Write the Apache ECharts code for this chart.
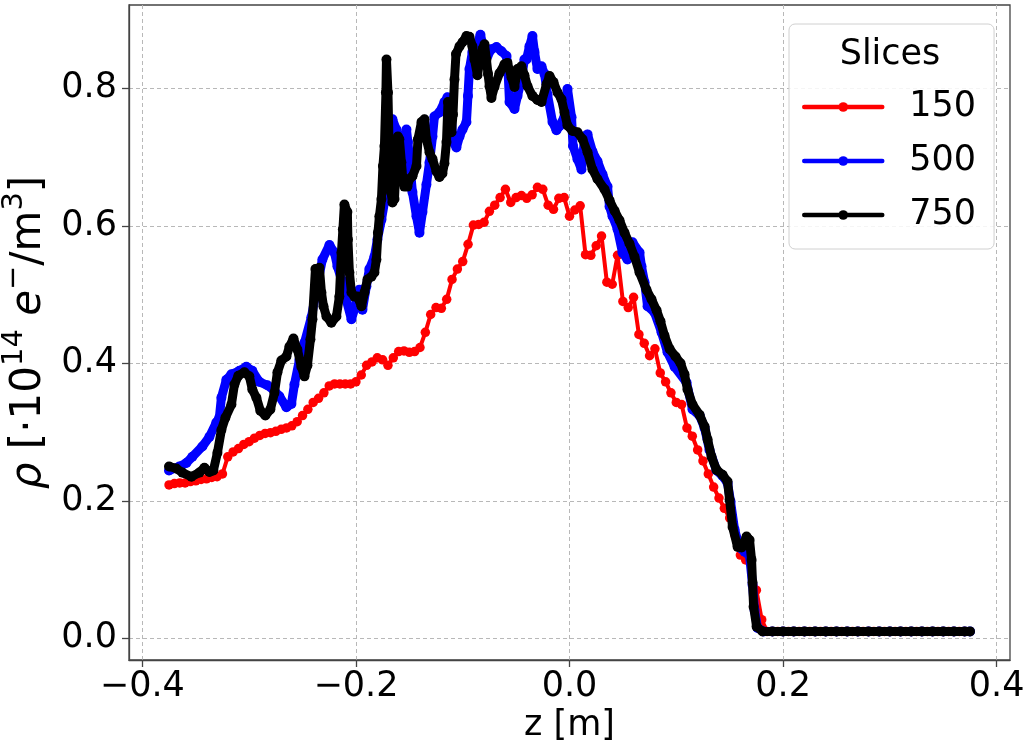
<!DOCTYPE html>
<html><head><meta charset="utf-8">
<script src="https://cdn.jsdelivr.net/npm/echarts@6/dist/echarts.min.js"></script>
<style>html,body{margin:0;padding:0;background:#fff}#c{width:1031px;height:745px}</style>
</head><body><div id="c"></div>
<script>
const seriesNames = ['150', '500', '750'];
const seriesColors = ['#ff0000', '#0000ff', '#000000'];
const xTickValues = [-0.4, -0.2, 0, 0.2, 0.4];
const xTickLabels = ['\u22120.4', '\u22120.2', '0.0', '0.2', '0.4'];
const yTickValues = [0, 0.2, 0.4, 0.6, 0.8];
const yTickLabels = ['0.0', '0.2', '0.4', '0.6', '0.8'];

// [z, rho] pairs
const red150 = [
[-0.375,0.223],[-0.370,0.225],[-0.365,0.226],[-0.360,0.226],[-0.355,0.228],[-0.350,0.229],[-0.345,0.231],[-0.340,0.232],[-0.335,0.234],[-0.330,0.235],
[-0.325,0.239],[-0.320,0.264],[-0.315,0.271],[-0.310,0.276],[-0.305,0.282],[-0.300,0.286],[-0.295,0.291],[-0.290,0.295],[-0.285,0.298],[-0.280,0.299],
[-0.275,0.301],[-0.270,0.304],[-0.265,0.306],[-0.260,0.309],[-0.255,0.315],[-0.250,0.324],[-0.245,0.333],[-0.240,0.343],[-0.235,0.349],[-0.230,0.357],
[-0.225,0.367],[-0.220,0.370],[-0.215,0.370],[-0.210,0.370],[-0.205,0.370],[-0.200,0.373],[-0.195,0.383],[-0.190,0.397],[-0.185,0.402],[-0.180,0.408],
[-0.175,0.405],[-0.170,0.397],[-0.165,0.408],[-0.160,0.417],[-0.155,0.418],[-0.150,0.416],[-0.145,0.417],[-0.140,0.423],[-0.135,0.445],[-0.130,0.471],
[-0.125,0.481],[-0.120,0.480],[-0.115,0.493],[-0.110,0.522],[-0.105,0.537],[-0.100,0.548],[-0.095,0.573],[-0.090,0.601],[-0.085,0.602],[-0.080,0.605],
[-0.075,0.621],[-0.070,0.630],[-0.065,0.641],[-0.060,0.653],[-0.055,0.634],[-0.050,0.641],[-0.045,0.644],[-0.040,0.640],[-0.035,0.645],[-0.030,0.656],
[-0.025,0.653],[-0.020,0.630],[-0.015,0.624],[-0.010,0.640],[-0.005,0.641],[0.000,0.614],[0.005,0.623],[0.010,0.629],[0.015,0.558],[0.020,0.557],
[0.025,0.571],[0.030,0.585],[0.035,0.518],[0.040,0.515],[0.045,0.557],[0.050,0.490],[0.055,0.481],[0.060,0.496],[0.065,0.442],[0.070,0.429],
[0.075,0.411],[0.080,0.421],[0.085,0.386],[0.090,0.373],[0.095,0.357],[0.100,0.343],[0.105,0.340],[0.110,0.306],[0.115,0.294],[0.120,0.274],
[0.125,0.258],[0.130,0.239],[0.135,0.220],[0.140,0.204],[0.145,0.189],[0.150,0.175],[0.155,0.150],[0.160,0.121],[0.165,0.114],[0.170,0.111],
[0.175,0.070],[0.180,0.027],[0.185,0.010],[0.190,0.010],[0.195,0.010],[0.200,0.010],[0.205,0.010],[0.210,0.010],[0.215,0.010],[0.220,0.010],
[0.225,0.010],[0.230,0.010],[0.235,0.010],[0.240,0.010],[0.245,0.010],[0.250,0.010],[0.255,0.010],[0.260,0.010],[0.265,0.010],[0.270,0.010],
[0.275,0.010],[0.280,0.010],[0.285,0.010],[0.290,0.010],[0.295,0.010],[0.300,0.010],[0.305,0.010],[0.310,0.010],[0.315,0.010],[0.320,0.010],
[0.325,0.010],[0.330,0.010],[0.335,0.010],[0.340,0.010],[0.345,0.010],[0.350,0.010],[0.355,0.010],[0.360,0.010],[0.365,0.010],[0.370,0.010]
];

const blue500 = [
[-0.375,0.244],[-0.3653,0.250],[-0.3588,0.255],[-0.3532,0.264],[-0.3438,0.279],[-0.3372,0.293],[-0.3307,0.314],[-0.3279,0.321],[-0.3260,0.350],[-0.3213,0.376],
[-0.3166,0.384],[-0.3091,0.389],[-0.3026,0.395],[-0.2970,0.389],[-0.2904,0.373],[-0.2829,0.368],[-0.2763,0.360],[-0.2717,0.352],[-0.2651,0.336],[-0.2604,0.341],
[-0.2576,0.369],[-0.2529,0.405],[-0.2482,0.430],[-0.2417,0.467],[-0.2370,0.507],[-0.2314,0.551],[-0.2248,0.572],[-0.2201,0.561],[-0.2173,0.541],[-0.2136,0.522],
[-0.2108,0.503],[-0.2042,0.464],[-0.1995,0.488],[-0.1967,0.507],[-0.1939,0.478],[-0.1902,0.512],[-0.1874,0.537],[-0.1827,0.555],[-0.1799,0.580],[-0.1761,0.609],
[-0.1733,0.634],[-0.1705,0.687],[-0.1686,0.726],[-0.1658,0.755],[-0.1621,0.740],[-0.1593,0.726],[-0.1564,0.711],[-0.1527,0.740],[-0.1513,0.722],[-0.1499,0.697],
[-0.1471,0.649],[-0.1433,0.614],[-0.1405,0.590],[-0.1377,0.620],[-0.1340,0.660],[-0.1311,0.692],[-0.1283,0.730],[-0.1265,0.759],[-0.1218,0.765],[-0.1171,0.780],
[-0.1143,0.787],[-0.1105,0.755],[-0.1091,0.722],[-0.1059,0.714],[-0.1030,0.730],[-0.1002,0.740],[-0.0965,0.751],[-0.0951,0.789],[-0.0937,0.828],[-0.0909,0.853],
[-0.0871,0.861],[-0.0834,0.878],[-0.0796,0.853],[-0.0768,0.847],[-0.0731,0.857],[-0.0684,0.860],[-0.0637,0.854],[-0.0590,0.847],[-0.0576,0.828],[-0.0562,0.780],
[-0.0515,0.770],[-0.0487,0.789],[-0.0450,0.813],[-0.0422,0.842],[-0.0403,0.842],[-0.0375,0.861],[-0.0347,0.876],[-0.0328,0.853],[-0.0300,0.828],[-0.0262,0.832],
[-0.0234,0.821],[-0.0206,0.791],[-0.0159,0.751],[-0.0122,0.739],[-0.0094,0.745],[-0.0047,0.759],[-0.0019,0.799],[0.0019,0.758],[0.0033,0.716],[0.0075,0.697],
[0.0112,0.682],[0.0126,0.701],[0.0141,0.730],[0.0169,0.733],[0.0215,0.708],[0.0262,0.694],[0.0309,0.675],[0.0356,0.657],[0.0375,0.628],[0.0403,0.614],
[0.0450,0.595],[0.0496,0.561],[0.0543,0.551],[0.0590,0.576],[0.0656,0.561],[0.0674,0.541],[0.0703,0.518],[0.0731,0.483],[0.0796,0.474],[0.0862,0.445],
[0.0918,0.416],[0.0984,0.395],[0.1096,0.372],[0.1152,0.333],[0.1218,0.324],[0.1265,0.306],[0.1311,0.274],[0.1377,0.244],[0.1433,0.236],[0.1480,0.226],
[0.1508,0.199],[0.1546,0.158],[0.1593,0.132],[0.1639,0.126],[0.1686,0.120],[0.1714,0.078],[0.1733,0.041],[0.1761,0.015],[0.1817,0.010],
[0.19,0.010],[0.20,0.010],[0.21,0.010],[0.22,0.010],[0.23,0.010],[0.24,0.010],[0.25,0.010],[0.26,0.010],[0.27,0.010],[0.28,0.010],
[0.29,0.010],[0.30,0.010],[0.31,0.010],[0.32,0.010],[0.33,0.010],[0.34,0.010],[0.35,0.010],[0.36,0.010],[0.37,0.010],[0.375,0.010]
];

const black750 = [
[-0.375,0.250],[-0.3682,0.247],[-0.3625,0.241],[-0.3541,0.235],[-0.3466,0.241],[-0.3419,0.248],[-0.3372,0.242],[-0.3335,0.244],[-0.3297,0.270],[-0.3260,0.303],
[-0.3222,0.321],[-0.3166,0.340],[-0.3138,0.369],[-0.3101,0.382],[-0.3044,0.387],[-0.2998,0.381],[-0.2970,0.362],[-0.2932,0.350],[-0.2895,0.331],[-0.2848,0.324],
[-0.2801,0.333],[-0.2763,0.357],[-0.2735,0.387],[-0.2698,0.404],[-0.2651,0.410],[-0.2623,0.424],[-0.2585,0.436],[-0.2548,0.420],[-0.2511,0.395],[-0.2482,0.381],
[-0.2454,0.397],[-0.2426,0.435],[-0.2407,0.464],[-0.2379,0.537],[-0.2342,0.539],[-0.2323,0.503],[-0.2304,0.483],[-0.2276,0.468],[-0.2230,0.459],[-0.2183,0.468],
[-0.2155,0.497],[-0.2136,0.561],[-0.2122,0.595],[-0.2108,0.631],[-0.2080,0.620],[-0.2075,0.580],[-0.2061,0.532],[-0.2042,0.503],[-0.2014,0.497],[-0.1986,0.497],
[-0.1948,0.483],[-0.1920,0.503],[-0.1892,0.522],[-0.1855,0.526],[-0.1827,0.532],[-0.1808,0.551],[-0.1794,0.590],[-0.1780,0.614],[-0.1761,0.639],[-0.1747,0.687],
[-0.1733,0.716],[-0.1719,0.794],[-0.1714,0.842],[-0.1700,0.794],[-0.1686,0.687],[-0.1672,0.649],[-0.1658,0.634],[-0.1639,0.639],[-0.1621,0.701],[-0.1607,0.730],
[-0.1593,0.726],[-0.1574,0.692],[-0.1560,0.668],[-0.1546,0.657],[-0.1518,0.657],[-0.1499,0.668],[-0.1471,0.672],[-0.1433,0.687],[-0.1419,0.726],[-0.1386,0.751],
[-0.1358,0.755],[-0.1340,0.726],[-0.1311,0.707],[-0.1283,0.697],[-0.1246,0.679],[-0.1218,0.671],[-0.1190,0.676],[-0.1171,0.691],[-0.1152,0.722],[-0.1138,0.780],
[-0.1124,0.755],[-0.1105,0.736],[-0.1091,0.762],[-0.1077,0.813],[-0.1063,0.850],[-0.1030,0.861],[-0.1002,0.867],[-0.0965,0.876],[-0.0937,0.875],[-0.0909,0.861],
[-0.0890,0.842],[-0.0862,0.819],[-0.0843,0.838],[-0.0815,0.857],[-0.0796,0.864],[-0.0778,0.842],[-0.0763,0.821],[-0.0749,0.803],[-0.0731,0.786],[-0.0703,0.802],
[-0.0656,0.822],[-0.0609,0.835],[-0.0581,0.837],[-0.0543,0.816],[-0.0515,0.802],[-0.0487,0.828],[-0.0450,0.832],[-0.0422,0.819],[-0.0393,0.803],[-0.0347,0.789],
[-0.0300,0.783],[-0.0262,0.780],[-0.0215,0.806],[-0.0187,0.818],[-0.0150,0.809],[-0.0112,0.794],[-0.0075,0.784],[-0.0047,0.765],[-0.0019,0.746],[0.0028,0.738],
[0.0075,0.736],[0.0122,0.726],[0.0169,0.707],[0.0215,0.682],[0.0262,0.668],[0.0328,0.653],[0.0375,0.637],[0.0422,0.622],[0.0468,0.608],[0.0515,0.590],
[0.0562,0.574],[0.0609,0.555],[0.0656,0.532],[0.0721,0.507],[0.0768,0.493],[0.0815,0.477],[0.0852,0.461],[0.0890,0.440],[0.0937,0.421],[0.0993,0.410],
[0.1040,0.400],[0.1077,0.384],[0.1105,0.362],[0.1152,0.340],[0.1218,0.325],[0.1265,0.308],[0.1293,0.289],[0.1330,0.264],[0.1377,0.245],[0.1433,0.238],
[0.1480,0.228],[0.1499,0.202],[0.1527,0.162],[0.1574,0.133],[0.1611,0.132],[0.1658,0.148],[0.1686,0.143],[0.1705,0.114],[0.1714,0.081],[0.1724,0.046],
[0.1752,0.017],[0.1808,0.010],
[0.19,0.010],[0.20,0.010],[0.21,0.010],[0.22,0.010],[0.23,0.010],[0.24,0.010],[0.25,0.010],[0.26,0.010],[0.27,0.010],[0.28,0.010],
[0.29,0.010],[0.30,0.010],[0.31,0.010],[0.32,0.010],[0.33,0.010],[0.34,0.010],[0.35,0.010],[0.36,0.010],[0.37,0.010],[0.375,0.010]
];

const FONT = 'DejaVu Sans';
function tickLabel(values, labels) {
  return function (v) {
    let best = 0;
    for (let i = 1; i < values.length; i++) {
      if (Math.abs(values[i] - v) < Math.abs(values[best] - v)) best = i;
    }
    return labels[best];
  };
}

const chart = echarts.init(document.getElementById('c'), null, { renderer: 'canvas' });
const lineSeries = (name, data, color, width, size, z) => ({
  name: name, type: 'line', data: data, z: z,
  symbol: 'circle', symbolSize: size, showAllSymbol: true,
  lineStyle: { color: color, width: width, join: 'round', cap: 'round' },
  itemStyle: { color: color },
  emphasis: { disabled: true },
  animation: false
});

chart.setOption({
  animation: false,
  backgroundColor: '#ffffff',
  grid: { left: 129, right: 21, top: 5, bottom: 85, containLabel: false, outerBoundsMode: 'none',
          show: true, borderColor: '#444', borderWidth: 1.3, backgroundColor: 'transparent' },
  xAxis: {
    type: 'value', min: -0.4125, max: 0.4125,
    name: 'z [m]', nameLocation: 'middle', nameGap: 30,
    nameTextStyle: { fontFamily: FONT, fontSize: 35, color: '#000' },
    axisLine: { show: true, onZero: false, lineStyle: { color: '#444', width: 1.3 } },
    axisTick: { show: true, inside: false, length: 7, customValues: xTickValues, lineStyle: { color: '#444', width: 1.3 } },
    axisLabel: { customValues: xTickValues, formatter: tickLabel(xTickValues, xTickLabels), margin: 9, fontFamily: FONT, fontSize: 35, color: '#000' },
    splitLine: { show: true, lineStyle: { color: '#b8b8b8', width: 1, type: [4, 3] } }
  },
  yAxis: {
    type: 'value', min: -0.0316, max: 0.9212,
    name: '{i|\u03c1} [\u00b710{sup|14} {i|e}{sup|\u2212}/m{sup|3}]',
    nameLocation: 'middle', nameGap: 76,
    nameTextStyle: {
      fontFamily: FONT, fontSize: 42, color: '#000',
      rich: {
        i: { fontFamily: FONT, fontSize: 42, fontStyle: 'italic', color: '#000' },
        sup: { fontFamily: FONT, fontSize: 29, color: '#000', verticalAlign: 'bottom', lineHeight: 29, padding: [0, 0, 21, 0] }
      }
    },
    axisLine: { show: true, onZero: false, lineStyle: { color: '#444', width: 1.3 } },
    axisTick: { show: true, inside: false, length: 7, customValues: yTickValues, lineStyle: { color: '#444', width: 1.3 } },
    axisLabel: { customValues: yTickValues, formatter: tickLabel(yTickValues, yTickLabels), margin: 12, fontFamily: FONT, fontSize: 35, color: '#000' },
    splitLine: { show: true, lineStyle: { color: '#b8b8b8', width: 1, type: [4, 3] } }
  },
  legend: {
    show: true, orient: 'vertical', left: 789, top: 24,
    padding: [63, 18, 14, 13],
    backgroundColor: 'rgba(255,255,255,0.85)', borderColor: '#d0d0d0', borderWidth: 1, borderRadius: 6,
    itemWidth: 78, itemHeight: 12, itemGap: 14,
    lineStyle: { width: 4.5 },
    data: seriesNames,
    textStyle: { fontFamily: FONT, fontSize: 35, color: '#000', lineHeight: 40, padding: [0, 0, 0, 22] },
    selectedMode: false, z: 10
  },
  graphic: [{
    type: 'text', x: 890, y: 55, z: 100, silent: true,
    style: { text: 'Slices', font: '35px "DejaVu Sans"', fill: '#000', align: 'center', verticalAlign: 'middle' }
  }],
  series: [
    lineSeries(seriesNames[0], red150, seriesColors[0], 4, 9.5, 2),
    lineSeries(seriesNames[1], blue500, seriesColors[1], 9, 10, 3),
    lineSeries(seriesNames[2], black750, seriesColors[2], 9, 10, 4)
  ]
});
</script>
</body></html>
